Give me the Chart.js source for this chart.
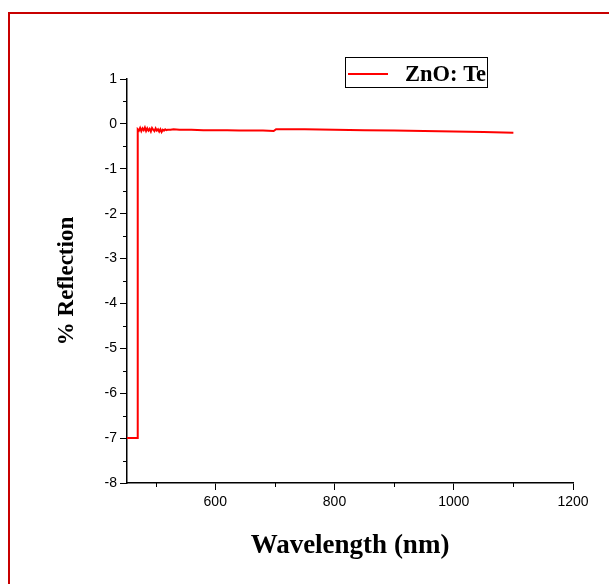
<!DOCTYPE html>
<html>
<head>
<meta charset="utf-8">
<script src="https://cdn.jsdelivr.net/npm/chart.js@4.4.1/dist/chart.umd.min.js"></script>
<style>
  html, body { margin: 0; padding: 0; background: #fff; overflow: hidden; }
  #frame { position: absolute; left: 8px; top: 12px; width: 700px; height: 700px; border: 2px solid #c80000; }
  #wrap { position: absolute; left: 0; top: 0; width: 609px; height: 584px; }
</style>
</head>
<body>
<div id="frame"></div>
<div id="wrap"><canvas id="reflChart" width="609" height="584"></canvas></div>
<script>
// wavelength (nm) and % reflection
const wavelength = [452, 470, 470, 472, 474, 476, 478, 480, 482, 484, 486, 488, 490, 492, 494, 496, 498, 500,
    502, 504, 506, 508, 510, 512, 514, 516, 518, 520, 525, 530, 540, 550, 560, 580, 600, 620, 640, 660, 680, 698,
    702, 720, 750, 800, 850, 900, 950, 1000, 1050, 1100];
const reflection = [-7, -7, -0.12, -0.15, -0.09, -0.16, -0.1, -0.14, -0.08, -0.16, -0.1, -0.15, -0.11, -0.17, -0.09,
    -0.13, -0.16, -0.1, -0.15, -0.12, -0.17, -0.12, -0.18, -0.13, -0.15, -0.12, -0.14, -0.13, -0.13, -0.12, -0.13,
    -0.13, -0.13, -0.14, -0.14, -0.14, -0.15, -0.15, -0.15, -0.16, -0.12, -0.12, -0.12, -0.13, -0.14, -0.15, -0.16,
    -0.17, -0.18, -0.2];

const xTicks = [600, 800, 1000, 1200];
const xMinorTicks = [500, 700, 900, 1100];
const yTicks = [-8, -7, -6, -5, -4, -3, -2, -1, 0, 1];
const yMinorTicks = [-7.5, -6.5, -5.5, -4.5, -3.5, -2.5, -1.5, -0.5, 0.5];

const sans = "'Liberation Sans', Arial, sans-serif";
const serif = "'Liberation Serif', 'Times New Roman', serif";

const minorTicks = {
    id: 'minorTicks',
    afterDraw(chart) {
        const { ctx, scales: { x, y } } = chart;
        ctx.save();
        ctx.strokeStyle = '#000';
        ctx.lineWidth = 1;
        ctx.beginPath();
        xMinorTicks.forEach(v => {
            const px = Math.round(x.getPixelForValue(v)) + 0.5;
            ctx.moveTo(px, y.bottom);
            ctx.lineTo(px, y.bottom + 4);
        });
        yMinorTicks.forEach(v => {
            const py = Math.round(y.getPixelForValue(v)) + 0.5;
            ctx.moveTo(x.left, py);
            ctx.lineTo(x.left - 4, py);
        });
        ctx.stroke();
        ctx.restore();
    }
};

const boxLegend = {
    id: 'boxLegend',
    afterDraw(chart) {
        const ctx = chart.ctx;
        const ds = chart.data.datasets[0];
        ctx.save();
        ctx.fillStyle = '#fff';
        ctx.fillRect(345, 57, 143, 31);
        ctx.strokeStyle = '#000';
        ctx.lineWidth = 1;
        ctx.strokeRect(345.5, 57.5, 142, 30);
        ctx.strokeStyle = ds.borderColor;
        ctx.lineWidth = 2;
        ctx.beginPath();
        ctx.moveTo(348, 74);
        ctx.lineTo(388, 74);
        ctx.stroke();
        ctx.fillStyle = '#000';
        ctx.font = "bold 22.5px " + serif;
        ctx.textBaseline = 'alphabetic';
        ctx.fillText(ds.label, 405, 81);
        ctx.restore();
    }
};

new Chart(document.getElementById('reflChart'), {
    type: 'line',
    data: {
        datasets: [{
            label: 'ZnO: Te',
            data: wavelength.map((w, i) => ({ x: w, y: reflection[i] })),
            borderColor: '#ff0000',
            borderWidth: 2,
            pointRadius: 0,
            tension: 0,
            fill: false
        }]
    },
    options: {
        responsive: false,
        animation: false,
        layout: { padding: { left: 0, right: 36, top: 79, bottom: 0 } },
        plugins: { legend: { display: false }, tooltip: { enabled: false } },
        scales: {
            x: {
                type: 'linear',
                min: 452,
                max: 1200,
                afterBuildTicks: s => { s.ticks = xTicks.map(v => ({ value: v })); },
                afterFit: s => { s.height = 101; },
                grid: { drawOnChartArea: false, tickLength: 7, tickColor: '#000' },
                border: { color: '#000', width: 1.5 },
                ticks: {
                    color: '#000', font: { family: sans, size: 14 }, padding: 4, maxRotation: 0,
                    callback: v => String(v)
                },
                title: {
                    display: true, text: 'Wavelength (nm)', color: '#000',
                    font: { family: serif, size: 27, weight: 'bold' },
                    padding: { top: 0, bottom: 22 }
                }
            },
            y: {
                min: -8,
                max: 1,
                afterBuildTicks: s => { s.ticks = yTicks.map(v => ({ value: v })); },
                afterFit: s => { s.width = 127; },
                grid: { drawOnChartArea: false, tickLength: 7, tickColor: '#000' },
                border: { color: '#000', width: 1.5 },
                ticks: { color: '#000', font: { family: sans, size: 14 }, padding: 3, callback: v => String(v) },
                title: {
                    display: true, text: '% Reflection', color: '#000',
                    font: { family: serif, size: 23, weight: 'bold' },
                    padding: { top: 53, bottom: 0 }
                }
            }
        }
    },
    plugins: [minorTicks, boxLegend]
});
</script>
</body>
</html>
